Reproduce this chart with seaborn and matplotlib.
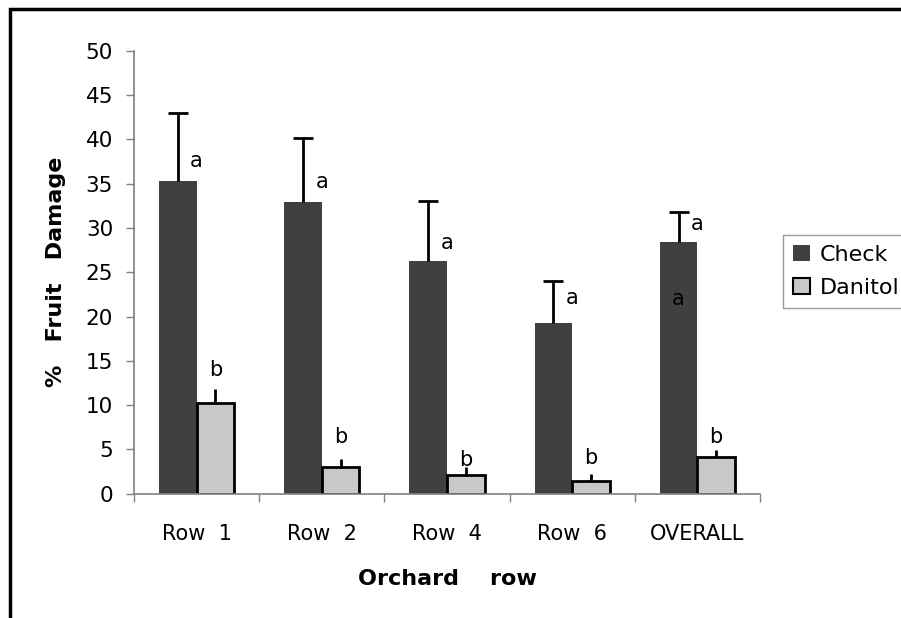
import numpy as np
import pandas as pd
import matplotlib
matplotlib.use("Agg")
import matplotlib.pyplot as plt
import seaborn as sns
from matplotlib.patches import Rectangle

# ---- data ----
rows = ["Row  1", "Row  2", "Row  4", "Row  6", "OVERALL"]
treatments = ["Check", "Danitol"]
check_mean = [35.3, 32.9, 26.3, 19.3, 28.4]
check_se = [7.7, 7.3, 6.7, 4.7, 3.4]
danitol_mean = [10.2, 3.0, 2.1, 1.4, 4.1]
danitol_se = [1.6, 0.9, 0.9, 0.8, 0.8]
check_letters = ["a", "a", "a", "a", "a"]
danitol_letters = ["b", "b", "b", "b", "b"]
# letter heights above bar / error bar (from the picture)
check_letter_gap = [2.2, 2.3, 2.0, 2.8, 2.0]
danitol_letter_gap = [2.2, 2.5, 0.8, 1.8, 1.5]

df = pd.DataFrame({
    "row": rows * 2,
    "treatment": ["Check"] * 5 + ["Danitol"] * 5,
    "damage": check_mean + danitol_mean,
})

sns.set_style("white")
plt.rcParams["font.family"] = ["DejaVu Sans"]
plt.rcParams["text.color"] = "black"
plt.rcParams["axes.labelcolor"] = "black"
plt.rcParams["xtick.color"] = "black"
plt.rcParams["ytick.color"] = "black"

fig = plt.figure(figsize=(9.01, 6.18), dpi=100)
ax = fig.add_axes([0.1487, 0.2011, 0.6948, 0.7168])

colors = {"Check": "#404040", "Danitol": "#c8c8c8"}
sns.barplot(data=df, x="row", y="damage", hue="treatment", order=rows,
            hue_order=treatments, palette=colors, width=0.6, gap=0,
            errorbar=None, saturation=1, ax=ax)

# Danitol bars outlined in black
for bar_container, name in zip(ax.containers, treatments):
    for b in bar_container:
        if name == "Danitol":
            b.set_edgecolor("black")
            b.set_linewidth(2)
        else:
            b.set_edgecolor("none")

# upper-only error bars + letters
for bar_container, name in zip(ax.containers, treatments):
    means = check_mean if name == "Check" else danitol_mean
    errs = check_se if name == "Check" else danitol_se
    for i, b in enumerate(bar_container):
        xc = b.get_x() + b.get_width() / 2
        top = means[i] + errs[i]
        ax.vlines(xc, means[i], top, color="black", linewidth=2, zorder=3)
        if name == "Check":
            ax.hlines(top, xc - 0.08, xc + 0.08, color="black", linewidth=2,
                      zorder=3)
            ax.text(i, means[i] + check_letter_gap[i], check_letters[i],
                    ha="center", va="center", fontsize=15)
        else:
            ax.text(xc, top + danitol_letter_gap[i], danitol_letters[i],
                    ha="center", va="center", fontsize=15)

# extra letter inside the OVERALL check bar
ax.text(4 - 0.15, 22.0, "a", ha="center", va="center", fontsize=15)

ax.set_ylim(0, 50)
ax.set_xlim(-0.5, 4.5)
ax.set_yticks(np.arange(0, 51, 5))
ax.set_xticks(range(len(rows)))
ax.set_xticklabels(rows)
ax.xaxis.set_minor_locator(matplotlib.ticker.FixedLocator(np.arange(-0.5, 5, 1)))
ax.tick_params(axis="x", which="major", length=0, pad=22, labelsize=15)
ax.tick_params(axis="x", which="minor", length=6, width=1, color="#808080",
               direction="out", bottom=True)
ax.tick_params(axis="y", length=6, width=1, color="#808080", direction="out",
               left=True, labelsize=15.5, pad=9)

for s in ["top", "right"]:
    ax.spines[s].set_visible(False)
for s in ["left", "bottom"]:
    ax.spines[s].set_color("#808080")
    ax.spines[s].set_linewidth(1.2)

ax.set_xlabel("Orchard    row", fontsize=16, fontweight="bold", labelpad=18)
ax.set_ylabel("%   Fruit   Damage", fontsize=16, fontweight="bold", labelpad=14)

leg = ax.legend(loc="upper left", bbox_to_anchor=(1.037, 0.585), frameon=True,
                fontsize=16, handlelength=0.75, handleheight=0.75,
                handletextpad=0.45, borderpad=0.45, labelspacing=0.6,
                fancybox=False, borderaxespad=0)
leg.get_frame().set_edgecolor("#808080")
leg.get_frame().set_linewidth(1)
for h in leg.legend_handles:
    h.set_edgecolor("black")
    h.set_linewidth(1.5)
leg.legend_handles[0].set_edgecolor("none")

# outer chart frame (top + left edges visible)
fig.patches.append(Rectangle((10 / 901, -0.1), 1.2, 1 - 9 / 618 + 0.1,
                             transform=fig.transFigure, fill=False,
                             edgecolor="black", linewidth=2.5))

fig.savefig("out.png", dpi=100)
